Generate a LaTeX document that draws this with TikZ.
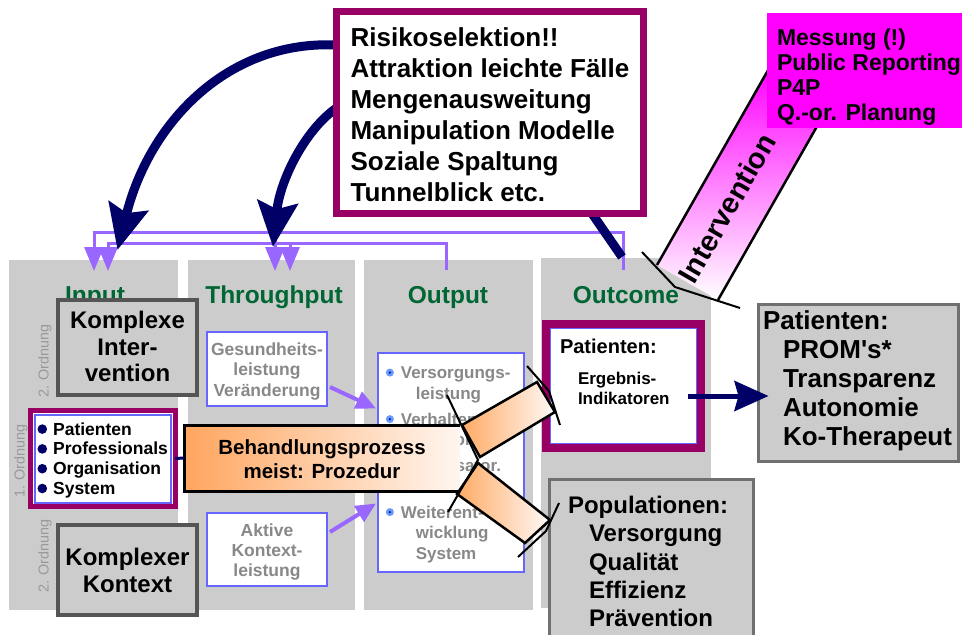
\documentclass[tikz,border=0pt]{standalone}
\usepackage{fontspec}
\setmainfont{Liberation Sans}
\usetikzlibrary{arrows.meta,calc}

\definecolor{colgray}{RGB}{204,204,204}
\definecolor{kbord}{RGB}{85,85,85}
\definecolor{ibord}{RGB}{112,112,112}
\definecolor{purp}{RGB}{153,0,102}
\definecolor{boxblue}{RGB}{102,102,255}
\definecolor{fbpurple}{RGB}{153,102,255}
\definecolor{navyc}{RGB}{0,0,102}
\definecolor{headgreen}{RGB}{0,102,51}
\definecolor{textgray}{RGB}{136,136,136}
\definecolor{ordgray}{RGB}{153,153,153}
\definecolor{magc}{RGB}{255,0,255}
\definecolor{bulblue}{RGB}{102,153,255}
\definecolor{bannerL}{RGB}{255,165,95}
\definecolor{bannerR}{RGB}{255,246,240}
\definecolor{barL}{RGB}{255,170,100}
\definecolor{barR}{RGB}{255,250,248}

\newcommand{\fs}[2]{\fontsize{#1}{#2}\selectfont}
\newcommand{\nbul}{\raisebox{1.2pt}{\tikz\fill[navyc] (0pt,0pt) circle[radius=4.8pt];}}
\newcommand{\obul}{\raisebox{2pt}{\tikz{\fill[bulblue] (0pt,0pt) circle[radius=4pt]; \fill[navyc] (0pt,0pt) circle[radius=1.2pt];}}}

\begin{document}
\begin{tikzpicture}[x=1pt,y=-1pt]
        \tikzstyle{every node}=[outer sep=0pt]
        \tikzstyle{colbg}=[fill=colgray,anchor=north west,inner sep=0pt,minimum height=350pt]
        \tikzstyle{head}=[anchor=base,text=headgreen,font=\bfseries\fs{24.5}{28}]
        \tikzstyle{ordn}=[rotate=90,text=ordgray,font=\mdseries\fs{14.4}{17}]
        \tikzstyle{graybox}=[anchor=north west,draw=kbord,line width=4pt,fill=colgray,inner sep=0pt,font=\bfseries\fs{24}{26.5}]
        \tikzstyle{infobox}=[anchor=north west,draw=ibord,line width=3pt,fill=colgray,inner sep=0pt]
        \tikzstyle{bluebox}=[anchor=north west,draw=boxblue,line width=2.5pt,fill=white,inner sep=0pt,text=textgray]
        \tikzstyle{purplebox}=[anchor=north west,draw=purp,fill=white,inner sep=0pt,
            path picture={\draw[boxblue,line width=2pt] ($(path picture bounding box.north west)+(4,4)$) rectangle ($(path picture bounding box.south east)+(-4,-4)$);}]
        \tikzstyle{fb}=[draw=fbpurple,line width=3pt,-{Triangle[length=24pt,width=19pt]}]
        \tikzstyle{smallarr}=[draw=fbpurple,line width=4pt,-{Triangle[length=20pt,width=18pt]}]
        \tikzstyle{navyarr}=[draw=navyc,line width=9pt,-{Stealth[length=45pt,width=40pt,inset=7pt]}]
        \tikzstyle{forkbar}=[draw=black,line width=2.5pt,left color=barL,right color=barR]
        \tikzstyle{forkend}=[draw=black,line width=2pt]

        \useasboundingbox (0,0) rectangle (962,635);
        \clip (0,0) rectangle (962,635);

        \node[colbg,minimum width=169pt] (cin) at (9,260) {};
        \node[colbg,minimum width=167pt] (cthr) at (188,260) {};
        \node[colbg,minimum width=169pt] (cout) at (364,260) {};
        \node[colbg,minimum width=170pt] (cres) at (541,258) {};

        \node[head] (hin) at (95,303) {Input};
        \node[head] (hthr) at (274,303) {Throughput};
        \node[head] (hout) at (448,303) {Output};
        \node[head] (hres) at (626,303) {Outcome};

        \coordinate (fbres) at (623,270);
        \coordinate (fbout) at (446,270);
        \coordinate (inA) at (94,271);
        \coordinate (inB) at (108,271);
        \coordinate (thrA) at (275,271);
        \coordinate (thrB) at (290,271);
        \draw[fb] (fbres) -- (623,232) -| (inA);
        \draw[fb] (275,232) -- (thrA);
        \draw[fb] (fbout) -- (446,243) -| (inB);
        \draw[fb] (290,243) -- (thrB);

        \node[graybox,minimum width=139pt,text height=28.6pt,text depth=66.4pt] (kint) at (58,300)
            {\begin{tabular}[t]{@{}c@{}}Komplexe\\Inter-\\vention\end{tabular}};
        \node[graybox,minimum width=139pt,text height=40.6pt,text depth=49.4pt] (kkon) at (58,525)
            {\begin{tabular}[t]{@{}c@{}}Komplexer\\Kontext\end{tabular}};

        \node[ordn] (o2a) at (45,361) {2. Ordnung};
        \node[ordn] (o1) at (21,461) {1. Ordnung};
        \node[ordn] (o2b) at (45,556) {2. Ordnung};

        \node[purplebox,line width=5pt,text height=24.6pt,text depth=71.4pt,inner xsep=7pt,font=\bfseries\fs{17.5}{19.8}] (plist) at (30.5,410.5)
            {\begin{tabular}[t]{@{}l@{\hspace{6pt}}p{115pt}@{}}\nbul & Patienten\\ \nbul & Professionals\\ \nbul & Organisation\\ \nbul & System\end{tabular}};

        \node[bluebox,minimum width=120pt,text height=23.3pt,text depth=50.7pt,font=\bfseries\fs{17.5}{20.5}] (gbox) at (207,332)
            {\begin{tabular}[t]{@{}c@{}}Gesundheits-\\leistung\\Veränderung\end{tabular}};
        \node[bluebox,minimum width=120pt,text height=23.3pt,text depth=49.7pt,font=\bfseries\fs{17.5}{20}] (abox) at (207,513)
            {\begin{tabular}[t]{@{}c@{}}Aktive\\Kontext-\\leistung\end{tabular}};

        \node[bluebox,line width=2pt,minimum width=146pt,text height=26.1pt,text depth=192.9pt,font=\bfseries\fs{17}{20.5}] (obox) at (378,352.5)
            {\begin{tabular}[t]{@{}l@{\hspace{7pt}}l@{}}
            \obul & Versorgungs-\\ & \hspace*{15pt}leistung\\[5.5pt]
            \obul & Verhalten Pro-\\ & \hspace*{15pt}fessionals\\[5.5pt]
            \obul & Organisator.\\ & \hspace*{15pt}Leistung\\[5.5pt]
            \obul & Weiterent-\\ & \hspace*{15pt}wicklung\\ & \hspace*{15pt}System
            \end{tabular}};

        \draw[smallarr] ($(gbox.south east)+(3,-19)$) -- ($(obox.north west)+(-2,56)$);
        \draw[smallarr] ($(abox.north east)+(3,19)$) -- ($(obox.south west)+(-2,-68)$);

        \node[purplebox,line width=8pt,text height=29.2pt,text depth=94.8pt,inner xsep=14pt,font=\bfseries\fs{20}{24}] (opat) at (546,324)
            {\begin{tabular}[t]{@{}p{127pt}@{}}Patienten:\\[7.7pt]
            \hspace*{18pt}{\fs{17}{19.5}\begin{tabular}[t]{@{}l@{}}Ergebnis-\\Indikatoren\end{tabular}}\end{tabular}};

        \node[infobox,text height=24.8pt,text depth=132.2pt,inner xsep=4.5pt,font=\bfseries\fs{26}{29}] (rpat) at (758.5,304.5)
            {\begin{tabular}[t]{@{}p{191pt}@{}}Patienten:\\ \hspace*{20pt}PROM\textquotesingle s*\\ \hspace*{20pt}Transparenz\\ \hspace*{20pt}Autonomie\\ \hspace*{20pt}Ko-Therapeut\end{tabular}};
        \node[infobox,text height=34.1pt,text depth=146.4pt,inner xsep=18.5pt,font=\bfseries\fs{24}{28.3}] (pop) at (549.5,479.5)
            {\begin{tabular}[t]{@{}p{167pt}@{}}Populationen:\\ \hspace*{21pt}Versorgung\\ \hspace*{21pt}Qualität\\ \hspace*{21pt}Effizienz\\ \hspace*{21pt}Prävention\end{tabular}};

        \draw[navyc,line width=5pt,-{Stealth[length=34pt,width=30pt,inset=4pt]}] ($(opat.east)+(-13,10)$) -- ($(rpat.west)+(10,13)$);

        \node[anchor=north west,inner sep=0pt,minimum width=276pt,text height=29.8pt,text depth=36.2pt,
            left color=bannerL,right color=bannerR,font=\bfseries\fs{20.5}{24}] (banner) at (184,425)
            {\begin{tabular}[t]{@{}c@{}}Behandlungsprozess\\meist: Prozedur\end{tabular}};
        \draw[black,line width=3pt] (banner.north east) -- (banner.north west) -- (banner.south west) -- (banner.south east);
        \draw[navyc,line width=3pt] (plist.east) -- (banner.west);

        \path[forkbar] (462,425) -- (537,382) -- (555,412) -- (480,457) -- cycle;
        \path[forkbar] (478,463) -- (550,520) -- (525,543) -- (457,494) -- cycle;
        \draw[forkend] (447,395) -- (478,460) -- (448,512);
        \draw[forkend] (527,366) -- (549,391) -- (560,425);
        \draw[forkend] (559,503) -- (546,531) -- (518,557);

        \draw[navyarr] (336.5,45) .. controls (230,40) and (150,120) .. ($(cin.north)+(24,-10)$);
        \draw[navyarr] (336.5,108) .. controls (305,130) and (280,180) .. ($(cthr.north)+(1.5,-13)$);
        \draw[navyc,line width=9pt] (592,213.5) -- ($(cres.north)+(-4,-1)$);

        \node[anchor=north west,draw=purp,line width=7pt,fill=white,inner sep=0pt,minimum width=307pt,
            text height=34.8pt,text depth=167.2pt,font=\bfseries\fs{26}{31}] (risk) at (336.5,11.5)
            {\begin{tabular}[t]{@{}l@{}}Risikoselektion!!\\Attraktion leichte Fälle\\Mengenausweitung\\Manipulation Modelle\\Soziale Spaltung\\Tunnelblick etc.\end{tabular}};

        \shade[top color=magc,bottom color=white] (657,265) -- (718,300) -- (832,100) -- (771,65) -- cycle;
        \draw[black,line width=2.5pt] (657,265) -- (771,65);
        \draw[black,line width=2.5pt] (718,300) -- (832,100);
        \draw[forkend] (642,252) -- (675,287) -- (740,308);
        \node[rotate=60,font=\bfseries\fs{29}{32}] (intv) at (727,208) {Intervention};

        \node[anchor=north west,fill=magc,inner sep=0pt,inner xsep=10pt,text height=32.2pt,text depth=82.8pt,font=\bfseries\fs{23}{25}] (mess) at (767,13)
            {\begin{tabular}[t]{@{}l@{}}Messung (!)\\Public Reporting\\P4P\\Q.-or. Planung\end{tabular}};
    \end{tikzpicture}
\end{document}
